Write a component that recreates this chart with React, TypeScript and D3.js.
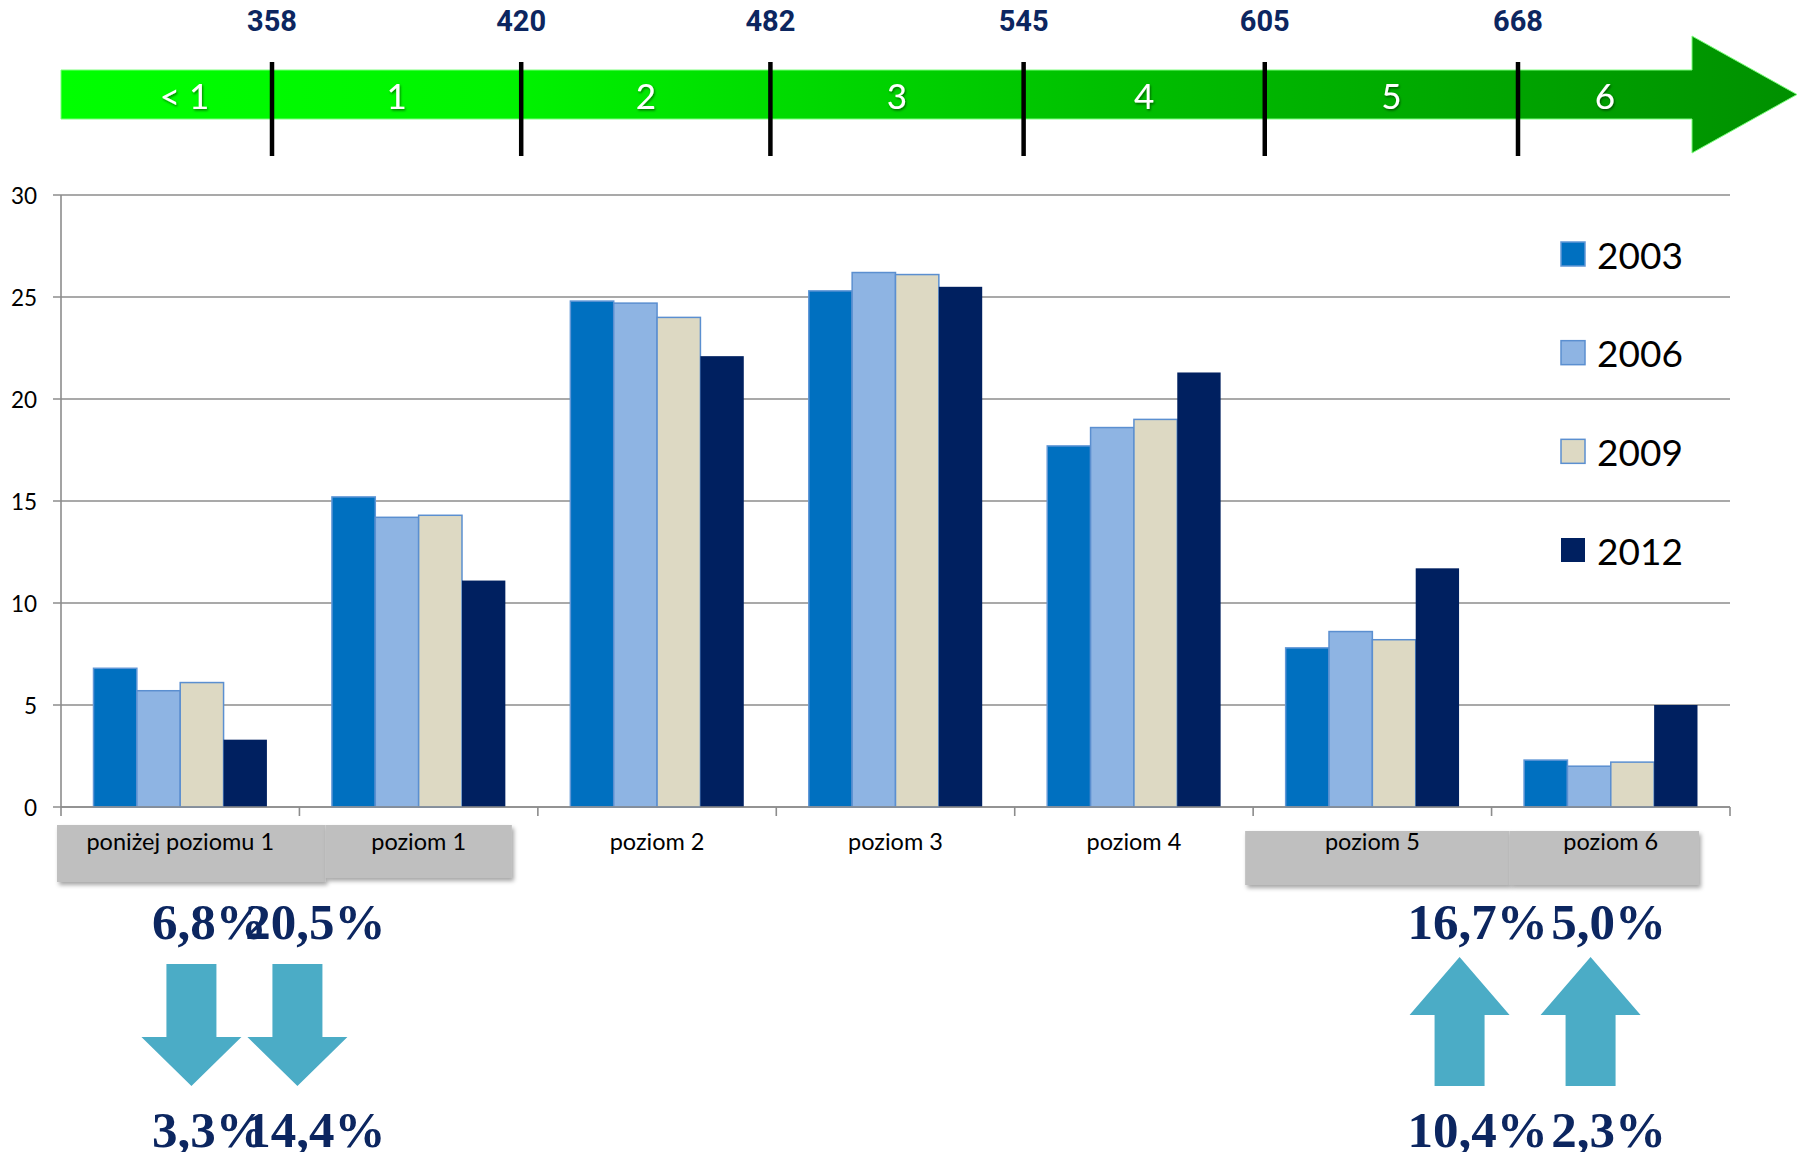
import { useMemo } from "react";
import * as d3 from "d3";

const W = 1800;
const H = 1152;

// chart data
const categories = [
  "poniżej poziomu 1",
  "poziom 1",
  "poziom 2",
  "poziom 3",
  "poziom 4",
  "poziom 5",
  "poziom 6",
];
const years = ["2003", "2006", "2009", "2012"];
const values2003 = [6.8, 15.2, 24.8, 25.3, 17.7, 7.8, 2.3];
const values2006 = [5.7, 14.2, 24.7, 26.2, 18.6, 8.6, 2.0];
const values2009 = [6.1, 14.3, 24.0, 26.1, 19.0, 8.2, 2.2];
const values2012 = [3.3, 11.1, 22.1, 25.5, 21.3, 11.7, 5.0];
const yTicks = [0, 5, 10, 15, 20, 25, 30];

// top scale of proficiency levels
const scoreThresholds = [358, 420, 482, 545, 605, 668];
const levelLabels = ["< 1", "1", "2", "3", "4", "5", "6"];

// change annotations under the chart
const changeTop = ["6,8%", "20,5%", "16,7%", "5,0%"];
const changeBottom = ["3,3%", "14,4%", "10,4%", "2,3%"];
const changeDir = ["down", "down", "up", "up"];

const COLORS: Record<string, string> = {
  "2003": "#0070c0",
  "2006": "#8eb4e3",
  "2009": "#ddd9c3",
  "2012": "#002060",
};
const STROKES: Record<string, string> = {
  "2003": "#5f96d6",
  "2006": "#5b8fd0",
  "2009": "#5b8fd0",
  "2012": "none",
};

const MARGIN = { top: 195, right: 70, bottom: 345, left: 61 };
const FONT = "Lato, 'Open Sans', sans-serif";
const NAVY = "#0c2660";
const TEAL = "#4bacc6";

export default function App() {
  const boundsWidth = W - MARGIN.left - MARGIN.right;
  const boundsHeight = H - MARGIN.top - MARGIN.bottom;

  const data = useMemo(() => {
    const series = [values2003, values2006, values2009, values2012];
    return categories.map((c, i) => ({
      name: c,
      values: years.map((y, j) => ({ year: y, value: series[j][i] })),
    }));
  }, []);

  const xScale = d3.scaleBand().domain(categories).range([0, boundsWidth]);
  const xInner = d3
    .scaleBand()
    .domain(years)
    .range([0, xScale.bandwidth()])
    .paddingInner(0)
    .paddingOuter(0.75);
  const yScale = d3.scaleLinear().domain([0, 30]).range([boundsHeight, 0]);

  // score -> x position of the level arrow
  const scoreScale = d3.scaleLinear().domain([358, 668]).range([272, 1518]);
  const arrow = { x0: 61, headX: 1692, tipX: 1797, y0: 70, y1: 119, hy0: 36, hy1: 153 };
  const bounds = [arrow.x0 + 36, ...scoreThresholds.map(scoreScale), arrow.headX];

  const legendY = d3.scalePoint().domain(years).range([254, 550]);

  const band = xScale.bandwidth();
  const cx = (i: number) => MARGIN.left + (xScale(categories[i]) ?? 0);

  // grey highlight boxes under chosen category labels
  const boxes = [
    { x0: cx(0) - 4, x1: cx(1) + 26, y0: 825, y1: 882 },
    { x0: cx(1) + 26, x1: cx(2) - 26, y0: 825, y1: 878 },
    { x0: cx(5) - 8, x1: cx(6) + 18, y0: 831, y1: 885 },
    { x0: cx(6) + 18, x1: cx(6) + band - 31, y0: 831, y1: 885 },
  ];

  // change arrows, anchored on category boundaries
  const arrowCenters = [cx(1) - 108, cx(1) - 2, cx(6) - 32, cx(6) + 99];

  const arrowPath = (c: number, dir: string) => {
    const sw = 25;
    const hw = 50;
    const pts: [number, number][] =
      dir === "down"
        ? [
            [c - sw, 964],
            [c + sw, 964],
            [c + sw, 1037],
            [c + hw, 1037],
            [c, 1086],
            [c - hw, 1037],
            [c - sw, 1037],
          ]
        : [
            [c, 957],
            [c + hw, 1015],
            [c + sw, 1015],
            [c + sw, 1086],
            [c - sw, 1086],
            [c - sw, 1015],
            [c - hw, 1015],
          ];
    return (d3.line()(pts) ?? "") + "Z";
  };

  return (
    <svg
      width={W}
      height={H}
      style={{ position: "absolute", left: 0, top: 0, background: "#fff" }}
    >
      <defs>
        <linearGradient id="lvl" x1="0" x2="1" y1="0" y2="0">
          <stop offset="0" stopColor="#00ff00" />
          <stop offset="0.25" stopColor="#00f400" />
          <stop offset="0.6" stopColor="#00c000" />
          <stop offset="1" stopColor="#009000" />
        </linearGradient>
        <filter id="boxShadow" x="-10%" y="-20%" width="120%" height="160%">
          <feDropShadow dx="2" dy="3" stdDeviation="2" floodColor="#000" floodOpacity="0.35" />
        </filter>
        <filter id="txtShadow" x="-20%" y="-20%" width="140%" height="140%">
          <feDropShadow dx="1" dy="1.5" stdDeviation="0.8" floodColor="#000" floodOpacity="0.5" />
        </filter>
      </defs>

      {/* level arrow */}
      <path
        d={`M${arrow.x0},${arrow.y0}H${arrow.headX}V${arrow.hy0}L${arrow.tipX},${(arrow.y0 + arrow.y1) / 2}L${arrow.headX},${arrow.hy1}V${arrow.y1}H${arrow.x0}Z`}
        fill="url(#lvl)"
        stroke="#7dff7d"
        strokeWidth={1}
      />
      {levelLabels.map((l, i) => (
        <text
          key={l}
          x={(bounds[i] + bounds[i + 1]) / 2}
          y={95}
          textAnchor="middle"
          dominantBaseline="central"
          fill="#fff"
          fontFamily={FONT}
          fontSize={35}
          filter="url(#txtShadow)"
        >
          {l}
        </text>
      ))}
      {scoreThresholds.map((s) => (
        <g key={s}>
          <line x1={scoreScale(s)} x2={scoreScale(s)} y1={62} y2={156} stroke="#000" strokeWidth={4.5} />
          <text
            x={scoreScale(s)}
            y={31}
            textAnchor="middle"
            fill={NAVY}
            fontFamily="'Liberation Sans Narrow', 'Roboto', sans-serif"
            fontWeight="bold"
            fontSize={29}
          >
            {s}
          </text>
        </g>
      ))}

      {/* highlight boxes */}
      {boxes.map((b, i) => (
        <rect
          key={i}
          x={b.x0}
          y={b.y0}
          width={b.x1 - b.x0}
          height={b.y1 - b.y0}
          fill="#bfbfbf"
          filter="url(#boxShadow)"
        />
      ))}

      <g transform={`translate(${MARGIN.left},${MARGIN.top})`}>
        {/* grid */}
        {yTicks.map((t) => (
          <g key={t}>
            <line x1={-8} x2={boundsWidth} y1={yScale(t)} y2={yScale(t)} stroke="#8c8c8c" strokeWidth={1.6} />
            <text
              x={-24}
              y={yScale(t)}
              textAnchor="end"
              dominantBaseline="central"
              fontFamily={FONT}
              fontSize={22.5}
              fill="#000"
            >
              {t}
            </text>
          </g>
        ))}
        <line x1={0} x2={0} y1={0} y2={boundsHeight} stroke="#8c8c8c" strokeWidth={1.6} />
        {[...categories.map((c) => xScale(c) ?? 0), boundsWidth].map((x, i) => (
          <line key={i} x1={x} x2={x} y1={boundsHeight} y2={boundsHeight + 9} stroke="#8c8c8c" strokeWidth={1.6} />
        ))}

        {/* bars */}
        {data.map((g) => (
          <g key={g.name} transform={`translate(${xScale(g.name)},0)`}>
            {g.values.map((v) => (
              <rect
                key={v.year}
                x={xInner(v.year)}
                y={yScale(v.value)}
                width={xInner.bandwidth()}
                height={boundsHeight - yScale(v.value)}
                fill={COLORS[v.year]}
                stroke={STROKES[v.year]}
                strokeWidth={1.5}
              />
            ))}
          </g>
        ))}
        <line x1={0} x2={boundsWidth} y1={boundsHeight} y2={boundsHeight} stroke="#8c8c8c" strokeWidth={1.6} />

        {/* category labels */}
        {categories.map((c) => (
          <text
            key={c}
            x={(xScale(c) ?? 0) + band / 2}
            y={boundsHeight + 34}
            textAnchor="middle"
            dominantBaseline="central"
            fontFamily={FONT}
            fontSize={23.5}
            fill="#000"
          >
            {c}
          </text>
        ))}
      </g>

      {/* legend */}
      {years.map((y) => (
        <g key={y} transform={`translate(1561,${legendY(y)})`}>
          <rect x={0} y={-12} width={24} height={24} fill={COLORS[y]} stroke={STROKES[y]} strokeWidth={1.5} />
          <text x={36} y={0} dominantBaseline="central" fontFamily={FONT} fontSize={37} fill="#000">
            {y}
          </text>
        </g>
      ))}

      {/* change annotations */}
      {arrowCenters.map((c, i) => (
        <g key={i}>
          <path d={arrowPath(c, changeDir[i])} fill={TEAL} />
          <text
            x={c + 18}
            y={939}
            textAnchor="middle"
            fontFamily="'Liberation Serif', 'DejaVu Serif', serif"
            fontWeight="bold"
            fontSize={51}
            fill={NAVY}
          >
            {changeTop[i]}
          </text>
          <text
            x={c + 18}
            y={1147}
            textAnchor="middle"
            fontFamily="'Liberation Serif', 'DejaVu Serif', serif"
            fontWeight="bold"
            fontSize={51}
            fill={NAVY}
          >
            {changeBottom[i]}
          </text>
        </g>
      ))}
    </svg>
  );
}
